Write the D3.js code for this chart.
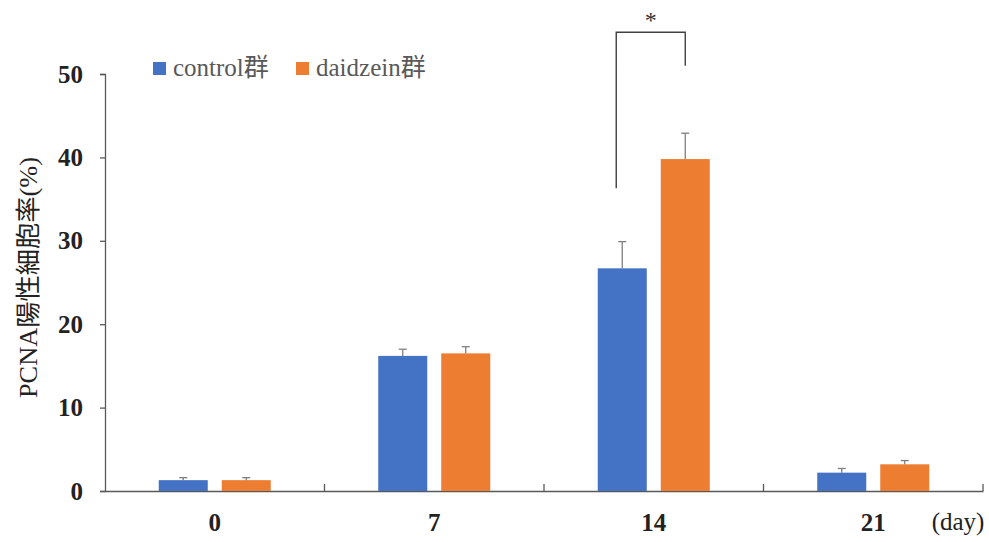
<!DOCTYPE html>
<html><head><meta charset="utf-8">
<script src="https://cdn.jsdelivr.net/npm/d3@7"></script>
<style>body{margin:0;background:#fff}</style>
</head><body>
<script>
const categories = ["0", "7", "14", "21"];
const seriesNames = ["control群", "daidzein群"];
const controlValues = [1.3, 16.2, 26.7, 2.2];
const controlErrors = [0.3, 0.8, 3.2, 0.5];
const daidzeinValues = [1.3, 16.5, 39.8, 3.2];
const daidzeinErrors = [0.3, 0.8, 3.1, 0.45];
const yTicks = [0, 10, 20, 30, 40, 50];
const colors = ["#4472C4", "#ED7D31"];

const W = 989, H = 542;
const svg = d3.select("body").append("svg").attr("width", W).attr("height", H);
const x0 = d3.scaleBand().domain(categories).range([105, 983]).padding(0);
const x1 = d3.scaleBand().domain(seriesNames).range([0, x0.bandwidth()]).paddingInner(0.222).paddingOuter(0.853);
const y = d3.scaleLinear().domain([0, 50]).range([491, 74]);

const serif = "'Liberation Serif','Times New Roman','Noto Sans CJK JP',serif";
const axisColor = "#595959";

// Y axis
const yAxis = svg.append("g").attr("transform", "translate(105,0)")
  .call(d3.axisLeft(y).tickValues(yTicks).tickSize(5).tickPadding(17));
yAxis.select(".domain").attr("stroke", axisColor).attr("stroke-width", 1.3);
yAxis.selectAll(".tick line").attr("stroke", axisColor).attr("stroke-width", 1.3);
yAxis.selectAll(".tick text").attr("font-family", serif).attr("font-size", 25).attr("font-weight", "bold").attr("fill", "#222");

// X axis
const xAxis = svg.append("g").attr("transform", "translate(0,491)")
  .call(d3.axisBottom(x0).tickSize(0));
xAxis.select(".domain").attr("stroke", axisColor).attr("stroke-width", 1.3);
xAxis.selectAll(".tick text").attr("font-family", serif).attr("font-size", 25).attr("font-weight", "bold").attr("fill", "#222")
  .attr("y", 40).attr("dy", 0);
// category boundary ticks
svg.append("g").selectAll("line").data(categories).join("line")
  .attr("x1", d => x0(d) + x0.bandwidth()).attr("x2", d => x0(d) + x0.bandwidth())
  .attr("y1", 491).attr("y2", 484).attr("stroke", axisColor).attr("stroke-width", 1.3);

// bars
const data = categories.map((c, i) => [
  {cat: c, s: seriesNames[0], v: controlValues[i], e: controlErrors[i], col: colors[0]},
  {cat: c, s: seriesNames[1], v: daidzeinValues[i], e: daidzeinErrors[i], col: colors[1]}
]).flat();

svg.append("g").selectAll("rect").data(data).join("rect")
  .attr("x", d => x0(d.cat) + x1(d.s))
  .attr("width", x1.bandwidth())
  .attr("y", d => y(d.v))
  .attr("height", d => y(0) - y(d.v))
  .attr("fill", d => d.col);

// error bars
const eb = svg.append("g").attr("stroke", "#7f7f7f").attr("stroke-width", 1.3);
data.forEach(d => {
  const cx = x0(d.cat) + x1(d.s) + x1.bandwidth() / 2;
  eb.append("line").attr("x1", cx).attr("x2", cx).attr("y1", y(d.v)).attr("y2", y(d.v + d.e));
  eb.append("line").attr("x1", cx - 4).attr("x2", cx + 4).attr("y1", y(d.v + d.e)).attr("y2", y(d.v + d.e));
});

// significance bracket
const bLeft = x0("14") + x1(seriesNames[0]) + x1.bandwidth() / 2 - 6;
const bRight = x0("14") + x1(seriesNames[1]) + x1.bandwidth() / 2;
svg.append("path")
  .attr("d", `M${bLeft},${y(36.3)}V${y(55)}H${bRight}V${y(51)}`)
  .attr("fill", "none").attr("stroke", "#404040").attr("stroke-width", 1.4);
svg.append("text").attr("x", (bLeft + bRight) / 2).attr("y", 28)
  .attr("text-anchor", "middle").attr("font-family", serif).attr("font-size", 24).attr("fill", "#333").text("*");

// Y label
svg.append("text").attr("transform", "translate(37,277.5) rotate(-90)")
  .attr("text-anchor", "middle").attr("font-family", serif).attr("font-size", 25).attr("fill", "#222")
  .attr("textLength", 241).attr("lengthAdjust", "spacingAndGlyphs")
  .text("PCNA陽性細胞率(%)");

// day label
svg.append("text").attr("x", 958).attr("y", 530).attr("text-anchor", "middle")
  .attr("font-family", serif).attr("font-size", 25).attr("fill", "#222").text("(day)");

// legend
const legX = [153, 296];
const leg = svg.append("g");
seriesNames.forEach((s, i) => {
  leg.append("rect").attr("x", legX[i]).attr("y", 62).attr("width", 13).attr("height", 13).attr("fill", colors[i]);
  leg.append("text").attr("x", legX[i] + 20).attr("y", 76).attr("font-family", serif).attr("font-size", 25)
    .attr("fill", "#595959").text(s);
});
</script>
</body></html>
